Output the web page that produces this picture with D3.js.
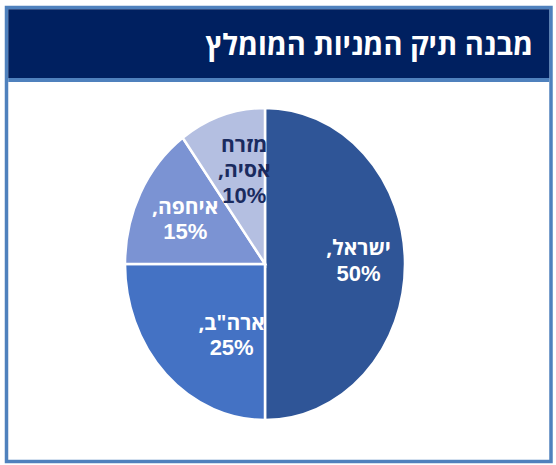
<!DOCTYPE html>
<html>
<head>
<meta charset="utf-8">
<script src="https://cdn.jsdelivr.net/npm/d3@7"></script>
<style>
  body { margin: 0; background: #fff; }
</style>
</head>
<body>
<svg id="svg" width="556" height="465"></svg>
<script>
var title = "מבנה תיק המניות המומלץ";
var regions = ["ישראל", "ארה\"ב", "איחפה", "מזרח אסיה"];
var shares = [50, 25, 15, 10];

var svg = d3.select("#svg");
var hebFont = "'Open Sans', 'DejaVu Sans', sans-serif";
var numFont = "'Liberation Sans', Arial, sans-serif";

// frame + header
svg.append("rect")
  .attr("x", 6.5).attr("y", 7.5)
  .attr("width", 544.5).attr("height", 454)
  .attr("fill", "#fff")
  .attr("stroke", "#4f81bd")
  .attr("stroke-width", 3.5);

svg.append("rect")
  .attr("x", 8.25).attr("y", 9.25)
  .attr("width", 541).attr("height", 69)
  .attr("fill", "#002060");

svg.append("rect")
  .attr("x", 8.25).attr("y", 78)
  .attr("width", 541).attr("height", 4)
  .attr("fill", "#4f81bd");

svg.append("text")
  .attr("x", 533).attr("y", 55)
  .attr("direction", "rtl")
  .attr("text-anchor", "start")
  .attr("fill", "#fff")
  .attr("font-family", hebFont)
  .attr("font-weight", "bold")
  .attr("font-size", 29)
  .text(title);

// pie (drawn as a circle, squashed into an ellipse)
var cx = 265, cy = 264, rx = 140, ry = 156;

var color = d3.scaleOrdinal()
  .domain(regions)
  .range(["#2f5597", "#4472c4", "#7b93d3", "#b4bfe1"]);
var textColor = d3.scaleOrdinal()
  .domain(regions)
  .range(["#fff", "#fff", "#fff", "#1a2b5f"]);

var pie = d3.pie().sort(null).value(function(d) { return d.v; });
var arcs = pie(regions.map(function(r, i) { return { name: r, v: shares[i] }; }));

var arc = d3.arc().innerRadius(0).outerRadius(rx);
var labelArc = d3.arc().innerRadius(rx * 0.64).outerRadius(rx * 0.64);

var g = svg.append("g")
  .attr("transform", "translate(" + cx + "," + cy + ") scale(1," + (ry / rx) + ")");

g.selectAll("path").data(arcs).enter()
  .append("path")
  .attr("d", arc)
  .attr("fill", function(d) { return color(d.data.name); })
  .attr("stroke", "#fff")
  .attr("stroke-width", 2.5)
  .attr("vector-effect", "non-scaling-stroke");

// labels
var nudge = { "ארה\"ב": [30, 0], "מזרח אסיה": [7, 0], "ישראל": [4, -4] };
var lh = 25.5;
var labels = svg.append("g").attr("transform", "translate(" + cx + "," + cy + ")");
arcs.forEach(function(d) {
  var c = labelArc.centroid(d);
  var n = nudge[d.data.name] || [0, 0];
  var x = c[0] + n[0];
  var y = c[1] * ry / rx + n[1];
  var words = d.data.name.split(" ");
  words[words.length - 1] += ",";
  var lines = words.concat([d.data.v + "%"]);
  var t = labels.append("text")
    .attr("text-anchor", "middle")
    .attr("direction", "rtl")
    .attr("fill", textColor(d.data.name))
    .attr("font-weight", "bold");
  lines.forEach(function(s, i) {
    var num = i === lines.length - 1;
    t.append("tspan")
      .attr("x", x)
      .attr("y", y + (i - (lines.length - 1) / 2) * lh + 8)
      .attr("font-family", num ? numFont : hebFont)
      .attr("font-size", num ? 22 : 21)
      .text(s);
  });
});
</script>
</body>
</html>
